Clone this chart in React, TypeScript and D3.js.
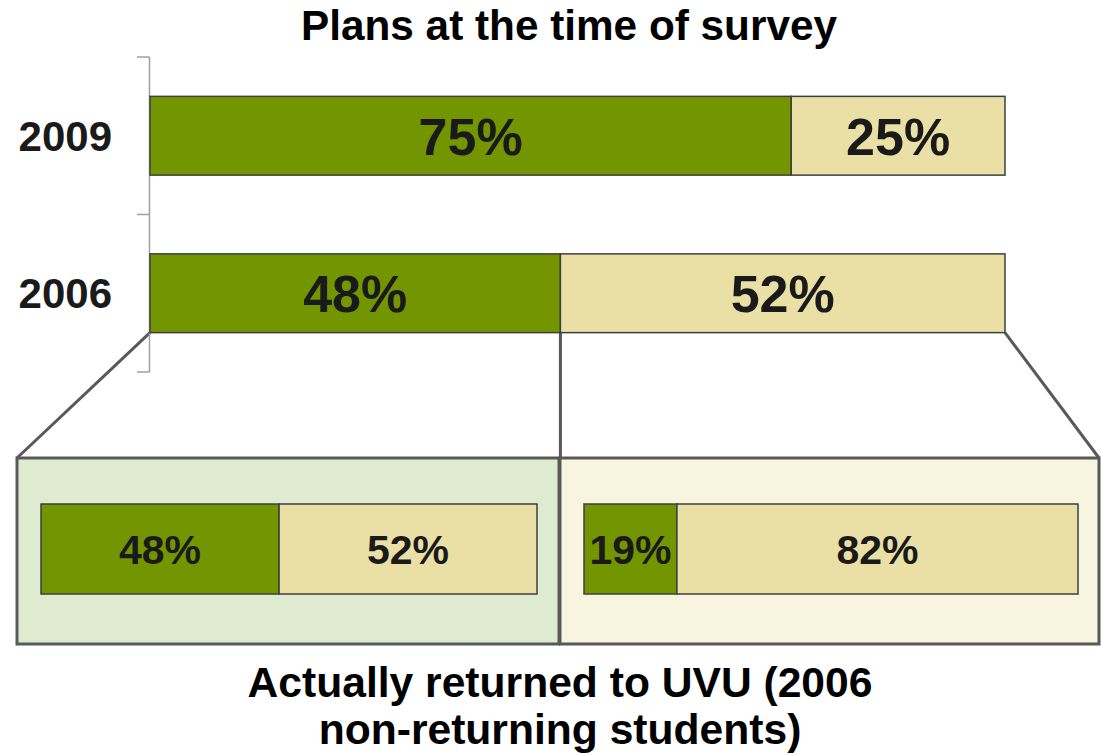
import React from "react";
import * as d3 from "d3";

const years = ["2009", "2006"];
const plannedReturn = [75, 48];
const plannedNot = [25, 52];

const detailGroups = ["planned", "notPlanned"];
const actualReturned = [48, 19];
const actualNotReturned = [52, 82];

const title = "Plans at the time of survey";
const bottomTitle = ["Actually returned to UVU (2006", "non-returning students)"];

const GREEN = "#739600";
const TAN = "#EAE0A6";
const BORDER = "#595959";
const BARSTROKE = "#3f3f3f";
const FONT = "'Liberation Sans', Arial, sans-serif";

export default function App() {
  const W = 1101, H = 754;
  const x = d3.scaleLinear().domain([0, 100]).range([150, 1005]);
  const y = d3.scaleBand<string>().domain(years).range([57, 372]).paddingInner(0.5).paddingOuter(0.25);
  const step = y.step();
  const tickYs = [57, 57 + step, 372];

  const panels = [
    { x0: 17, x1: 559, fill: "#DEEBD1", bx0: 41, bx1: 537 },
    { x0: 560, x1: 1099, fill: "#F7F4E0", bx0: 584, bx1: 1078 },
  ];
  const panelY0 = 458, panelY1 = 644;
  const barY0 = 504, barY1 = 594;

  const bar2006 = y("2006")!;
  const bar2006Bottom = bar2006 + y.bandwidth();

  return (
    <svg width={W} height={H} style={{ position: "absolute", left: 0, top: 0 }} fontFamily={FONT}>
      <rect width={W} height={H} fill="#fff" />
      <text x={569} y={40} textAnchor="middle" fontSize={42.3} fontWeight="bold" fill="#000">{title}</text>

      {/* connectors */}
      <line x1={x(0)} y1={bar2006Bottom} x2={panels[0].x0} y2={panelY0} stroke={BORDER} strokeWidth={3} />
      <line x1={x(100)} y1={bar2006Bottom} x2={panels[1].x1} y2={panelY0} stroke={BORDER} strokeWidth={3} />
      <line x1={x(plannedReturn[1])} y1={bar2006Bottom} x2={x(plannedReturn[1])} y2={panelY0} stroke={BORDER} strokeWidth={3} />

      {/* axis */}
      <line x1={149.5} x2={149.5} y1={57} y2={372} stroke="#a0a0a0" strokeWidth={1.5} />
      {tickYs.map((t, i) => (
        <line key={i} x1={137} x2={149.5} y1={t} y2={t} stroke="#a0a0a0" strokeWidth={1.5} />
      ))}

      {years.map((yr, i) => {
        const y0 = y(yr)!;
        const bw = y.bandwidth();
        const a = plannedReturn[i], b = plannedNot[i];
        return (
          <g key={yr}>
            <text x={112} y={y0 + bw / 2 + 15} textAnchor="end" fontSize={42} fontWeight="bold" fill="#1a1a1a">{yr}</text>
            <rect x={x(0)} y={y0} width={x(a) - x(0)} height={bw} fill={GREEN} stroke={BARSTROKE} strokeWidth={1.5} />
            <rect x={x(a)} y={y0} width={x(a + b) - x(a)} height={bw} fill={TAN} stroke={BARSTROKE} strokeWidth={1.5} />
            <text x={(x(0) + x(a)) / 2} y={y0 + bw / 2 + 19} textAnchor="middle" fontSize={52} fontWeight="bold" fill="#1a1a1a">{a}%</text>
            <text x={(x(a) + x(a + b)) / 2} y={y0 + bw / 2 + 19} textAnchor="middle" fontSize={52} fontWeight="bold" fill="#1a1a1a">{b}%</text>
          </g>
        );
      })}

      {detailGroups.map((g, i) => {
        const p = panels[i];
        const a = actualReturned[i], b = actualNotReturned[i];
        const sx = d3.scaleLinear().domain([0, a + b]).range([p.bx0, p.bx1]);
        const cy = (barY0 + barY1) / 2;
        return (
          <g key={g}>
            <rect x={p.x0} y={panelY0} width={p.x1 - p.x0} height={panelY1 - panelY0} fill={p.fill} stroke={BORDER} strokeWidth={3} />
            <rect x={sx(0)} y={barY0} width={sx(a) - sx(0)} height={barY1 - barY0} fill={GREEN} stroke={BARSTROKE} strokeWidth={1.5} />
            <rect x={sx(a)} y={barY0} width={sx(a + b) - sx(a)} height={barY1 - barY0} fill={TAN} stroke={BARSTROKE} strokeWidth={1.5} />
            <text x={(sx(0) + sx(a)) / 2} y={cy + 14.5} textAnchor="middle" fontSize={41} fontWeight="bold" fill="#1a1a1a">{a}%</text>
            <text x={(sx(a) + sx(a + b)) / 2} y={cy + 14.5} textAnchor="middle" fontSize={41} fontWeight="bold" fill="#1a1a1a">{b}%</text>
          </g>
        );
      })}

      {bottomTitle.map((line, i) => (
        <text key={i} x={560} y={697 + i * 47} textAnchor="middle" fontSize={42.6} fontWeight="bold" fill="#000">{line}</text>
      ))}
    </svg>
  );
}
